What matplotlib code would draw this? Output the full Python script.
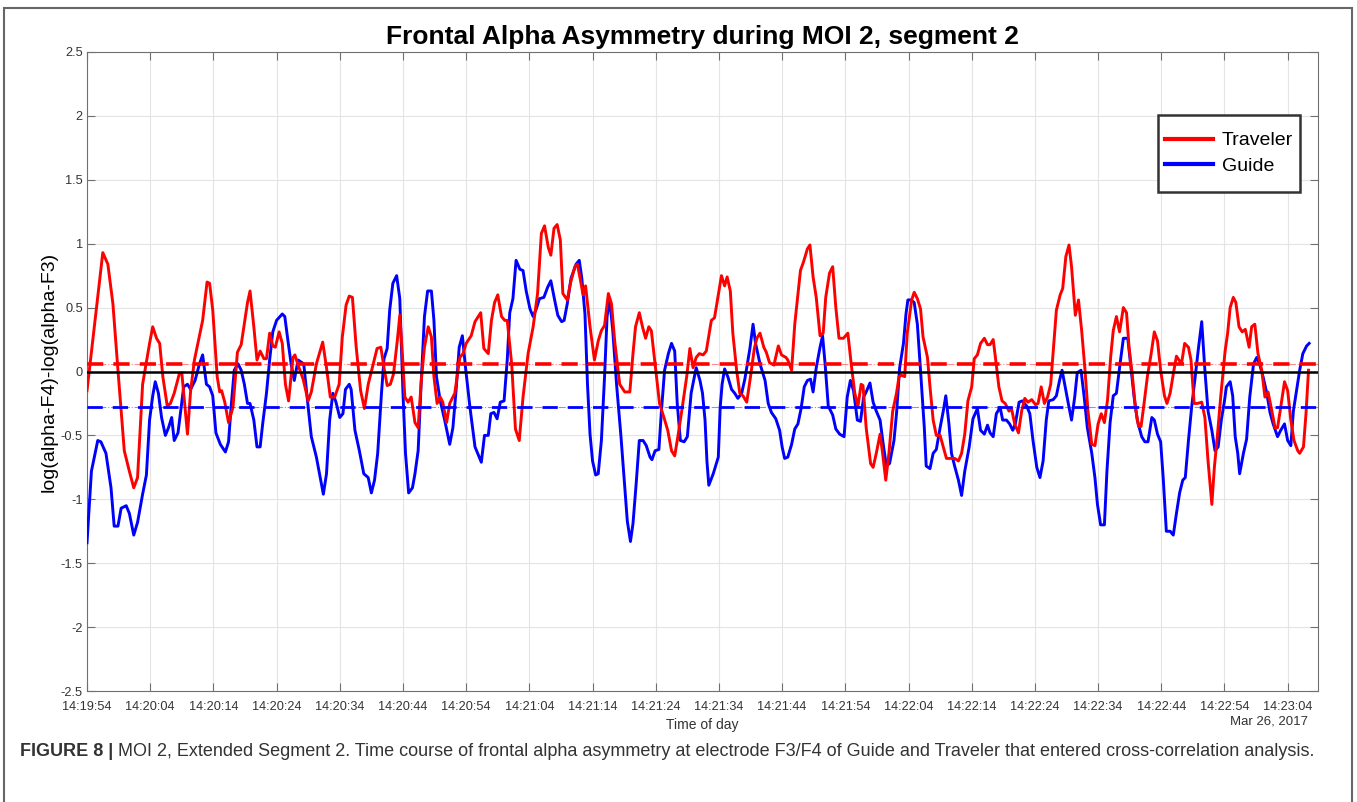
import datetime as dt
import matplotlib
matplotlib.use('Agg')
import matplotlib.pyplot as plt
from matplotlib.patches import Rectangle
from matplotlib.ticker import FixedLocator, FuncFormatter

plt.rcParams['font.family'] = ['Liberation Sans', 'DejaVu Sans']

# seconds after 14:19:54
start_time = dt.datetime(2017, 3, 26, 14, 19, 54)

traveler_t = [
    0.0, 2.5, 3.3, 4.1, 4.9, 5.9, 6.7, 7.4, 8.0, 8.8, 9.9, 10.4, 11.0, 11.5, 12.0, 12.7, 13.2, 13.8,
    14.6, 15.0, 15.3, 15.9, 16.4, 17.0, 18.3, 19.0, 19.4, 19.9, 20.6, 21.0, 21.3, 21.8, 22.4, 23.1,
    23.8, 24.4, 25.4, 25.8, 26.4, 26.9, 27.4, 28.0, 28.4, 28.9, 29.4, 29.8, 30.4, 30.9, 31.4, 31.9,
    32.6, 32.9, 33.4, 34.2, 35.0, 35.5, 36.3, 37.3, 37.9, 38.5, 39.2, 39.9, 40.4, 41.0, 41.5, 42.0,
    42.6, 43.3, 43.9, 44.5, 45.3, 45.9, 46.5, 47.0, 47.5, 48.0, 48.5, 49.1, 49.5, 49.9, 50.3, 50.8,
    51.3, 51.9, 52.4, 52.9, 53.4, 54.0, 54.5, 54.9, 55.4, 55.9, 56.3, 56.9, 57.4, 58.2, 59.0, 59.5,
    60.0, 60.8, 61.4, 62.3, 62.8, 63.5, 64.0, 64.5, 65.0, 65.6, 66.1, 66.5, 67.2, 67.8, 68.4, 69.0,
    69.8, 70.6, 71.3, 71.9, 72.4, 73.0, 73.4, 73.9, 74.4, 74.9, 75.3, 76.0, 76.5, 77.2, 77.6, 78.1,
    78.5, 78.9, 79.6, 80.3, 80.9, 81.4, 81.9, 82.5, 83.0, 83.5, 84.3, 85.1, 85.9, 86.4, 86.8, 87.4,
    87.9, 88.4, 88.9, 89.3, 89.9, 90.6, 91.3, 91.9, 92.5, 93.0, 93.5, 94.2, 94.9, 95.4, 95.9, 96.4,
    96.9, 97.5, 98.0, 98.8, 99.3, 99.9, 100.4, 100.9, 101.3, 101.8, 102.2, 102.8, 103.3, 103.8,
    104.4, 105.0, 105.6, 106.0, 106.5, 107.1, 107.5, 108.0, 108.7, 109.4, 109.9, 110.6, 110.9,
    111.5, 112.0, 112.9, 113.4, 114.0, 114.4, 114.9, 115.4, 116.0, 116.5, 116.9, 117.5, 118.0,
    118.5, 119.0, 119.7, 120.4, 121.0, 121.5, 122.0, 122.5, 122.8, 123.3, 124.0, 124.4, 124.9,
    125.5, 125.9, 126.4, 126.9, 127.5, 128.1, 128.5, 128.9, 129.4, 129.8, 130.2, 130.5, 130.9,
    131.4, 131.9, 132.3, 133.0, 133.4, 133.9, 134.4, 135.0, 135.5, 136.0, 136.8, 137.3, 137.9,
    138.4, 138.9, 139.4, 140.0, 140.4, 140.9, 141.4, 142.0, 142.5, 142.9, 143.4, 143.8, 144.3,
    144.8, 145.3, 145.9, 146.3, 146.8, 147.4, 147.9, 148.4, 148.9, 149.5, 150.1, 150.5, 151.0,
    151.5, 152.0, 152.5, 152.9, 153.4, 154.0, 154.4, 154.9, 155.4, 155.8, 156.4, 156.9, 157.4,
    157.9, 158.4, 159.0, 159.5, 160.0, 160.5, 161.0, 161.5, 162.0, 162.4, 162.9, 163.4, 164.0,
    164.5, 164.9, 165.4, 165.9, 166.4, 166.8, 167.3, 167.8, 168.4, 168.9, 169.4, 169.9, 170.5,
    170.9, 171.4, 171.9, 172.4, 172.8, 173.2, 173.7, 174.3, 174.7, 175.2, 175.7, 176.4, 176.9,
    177.4, 178.0, 178.4, 178.9, 179.4, 180.1, 180.5, 180.9, 181.4, 181.8, 182.3, 182.8, 183.3,
    183.9, 184.3, 184.8, 185.3, 185.9, 186.4, 186.9, 187.5, 188.0, 188.4, 188.9, 189.5, 190.0,
    190.5, 191.0, 191.6, 191.9, 192.5, 192.9, 193.3,
]
traveler_v = [
    -0.15, 0.93, 0.84, 0.53, 0.01, -0.62, -0.78, -0.91, -0.83, -0.10, 0.22, 0.35, 0.26, 0.22, -0.04,
    -0.27, -0.25, -0.17, -0.02, -0.01, -0.17, -0.49, -0.15, 0.09, 0.40, 0.70, 0.69, 0.48, -0.04,
    -0.16, -0.15, -0.24, -0.40, -0.28, 0.15, 0.21, 0.54, 0.63, 0.35, 0.09, 0.16, 0.10, 0.10, 0.30,
    0.20, 0.19, 0.31, 0.22, -0.10, -0.23, 0.11, 0.13, 0.05, -0.06, -0.23, -0.16, 0.06, 0.23, 0.03,
    -0.20, -0.20, -0.10, 0.27, 0.52, 0.59, 0.58, 0.19, -0.15, -0.29, -0.10, 0.06, 0.18, 0.19, 0.03,
    -0.11, -0.10, -0.02, 0.24, 0.44, 0.14, -0.20, -0.24, -0.20, -0.40, -0.44, -0.07, 0.19, 0.35,
    0.27, -0.04, -0.25, -0.20, -0.24, -0.40, -0.25, -0.17, 0.11, 0.14, 0.22, 0.28, 0.39, 0.46, 0.18,
    0.14, 0.40, 0.54, 0.60, 0.43, 0.40, 0.40, 0.06, -0.45, -0.54, -0.20, 0.14, 0.35, 0.61, 1.08,
    1.14, 0.97, 0.91, 1.12, 1.15, 1.03, 0.61, 0.56, 0.69, 0.82, 0.84, 0.71, 0.60, 0.67, 0.35, 0.09,
    0.24, 0.32, 0.36, 0.61, 0.53, 0.24, -0.10, -0.16, -0.16, 0.14, 0.35, 0.46, 0.35, 0.26, 0.35,
    0.32, 0.06, -0.25, -0.36, -0.46, -0.62, -0.66, -0.51, -0.28, -0.04, 0.18, 0.03, 0.11, 0.14,
    0.13, 0.16, 0.40, 0.42, 0.60, 0.75, 0.67, 0.74, 0.63, 0.30, 0.01, -0.17, -0.19, -0.24, -0.04,
    0.18, 0.26, 0.30, 0.19, 0.15, 0.07, 0.05, 0.20, 0.13, 0.11, 0.09, 0.01, 0.37, 0.79, 0.86, 0.96,
    0.99, 0.74, 0.58, 0.28, 0.30, 0.58, 0.77, 0.82, 0.50, 0.26, 0.26, 0.30, 0.03, -0.17, -0.27,
    -0.10, -0.11, -0.44, -0.72, -0.75, -0.64, -0.49, -0.64, -0.85, -0.64, -0.31, -0.17, -0.04,
    -0.03, -0.04, 0.30, 0.45, 0.56, 0.62, 0.57, 0.49, 0.27, 0.11, -0.12, -0.38, -0.50, -0.50,
    -0.59, -0.68, -0.68, -0.68, -0.70, -0.64, -0.49, -0.23, -0.12, 0.10, 0.13, 0.22, 0.26, 0.21,
    0.21, 0.25, 0.09, -0.12, -0.23, -0.25, -0.31, -0.29, -0.41, -0.48, -0.31, -0.21, -0.24, -0.22,
    -0.26, -0.25, -0.12, -0.25, -0.20, -0.10, 0.16, 0.48, 0.60, 0.65, 0.90, 0.99, 0.82, 0.44, 0.56,
    0.32, 0.03, -0.31, -0.57, -0.58, -0.41, -0.33, -0.40, -0.22, 0.12, 0.32, 0.43, 0.31, 0.50,
    0.46, 0.19, -0.02, -0.28, -0.43, -0.43, -0.24, -0.04, 0.14, 0.31, 0.24, 0.01, -0.19, -0.25,
    -0.17, -0.02, 0.12, 0.09, 0.06, 0.22, 0.19, 0.09, -0.25, -0.25, -0.24, -0.36, -0.70, -1.04,
    -0.75, -0.49, -0.20, 0.16, 0.30, 0.50, 0.58, 0.54, 0.35, 0.31, 0.33, 0.19, 0.35, 0.37, 0.14,
    0.01, -0.20, -0.16, -0.31, -0.44, -0.44, -0.28, -0.08, -0.15, -0.38, -0.54, -0.62, -0.64,
    -0.59, -0.33, 0.01,
]

guide_t = [
    0.0, 0.7, 1.7, 2.2, 3.0, 3.8, 4.3, 4.9, 5.4, 6.2, 6.7, 7.4, 8.0, 8.8, 9.4, 9.9, 10.4, 10.8,
    11.3, 11.8, 12.4, 12.9, 13.4, 13.8, 14.4, 14.9, 15.3, 15.9, 16.4, 17.1, 17.8, 18.3, 18.9, 19.4,
    19.9, 20.4, 21.1, 21.9, 22.4, 22.8, 23.3, 23.9, 24.4, 24.9, 25.4, 25.8, 26.4, 26.9, 27.4, 27.8,
    28.4, 28.9, 29.4, 30.0, 30.9, 31.3, 31.8, 32.3, 32.8, 33.4, 34.3, 35.0, 35.5, 36.3, 36.8, 37.4,
    37.9, 38.4, 38.9, 39.4, 40.0, 40.5, 40.9, 41.5, 41.8, 42.4, 43.1, 43.8, 44.5, 45.0, 45.5, 46.0,
    46.6, 47.0, 47.5, 47.9, 48.4, 49.0, 49.5, 50.0, 50.4, 50.9, 51.5, 51.9, 52.4, 52.9, 53.4, 53.9,
    54.5, 54.9, 55.3, 55.9, 56.6, 57.4, 57.9, 58.4, 58.9, 59.4, 59.9, 60.6, 61.4, 62.4, 62.9, 63.5,
    63.9, 64.4, 64.9, 65.4, 66.0, 66.5, 66.9, 67.4, 67.9, 68.5, 69.0, 69.5, 70.1, 70.6, 71.1, 71.6,
    72.3, 72.9, 73.4, 74.0, 74.5, 75.1, 75.5, 76.0, 76.6, 77.4, 77.9, 78.3, 78.8, 79.2, 79.6, 80.0,
    80.5, 80.9, 81.4, 81.9, 82.3, 82.7, 83.2, 83.8, 84.5, 85.1, 85.5, 86.0, 86.4, 86.9, 87.4, 88.0,
    88.5, 89.1, 89.4, 89.9, 90.5, 90.9, 91.4, 92.0, 92.5, 93.0, 93.4, 93.9, 94.5, 95.0, 95.6, 96.4,
    97.0, 97.4, 97.8, 98.1, 98.4, 99.1, 99.9, 100.2, 100.5, 100.9, 101.4, 102.0, 102.5, 103.0,
    103.6, 104.1, 104.6, 104.9, 105.4, 105.8, 106.5, 107.3, 107.8, 108.3, 109.0, 109.6, 110.0,
    110.4, 110.9, 111.5, 112.0, 112.5, 113.0, 113.5, 114.0, 114.5, 114.9, 115.4, 116.0, 116.4,
    116.8, 117.3, 118.0, 118.5, 119.1, 119.8, 120.3, 120.8, 121.3, 121.9, 122.4, 122.9, 123.3,
    123.9, 124.4, 124.9, 125.5, 126.0, 126.5, 127.0, 127.7, 128.1, 128.6, 129.2, 129.6, 129.9,
    130.4, 130.9, 131.4, 131.9, 132.5, 132.8, 133.4, 133.9, 134.4, 135.0, 135.5, 135.9, 136.4,
    136.8, 137.3, 137.9, 138.4, 138.9, 139.6, 140.2, 140.9, 141.4, 142.0, 142.5, 142.9, 143.4,
    143.9, 144.5, 144.9, 145.5, 146.0, 146.5, 146.9, 147.5, 148.0, 148.7, 149.2, 149.7, 150.3,
    150.8, 151.3, 151.8, 152.2, 152.9, 153.4, 153.9, 154.3, 154.9, 155.4, 155.8, 156.3, 156.7,
    157.3, 157.8, 158.3, 159.0, 159.5, 159.9, 160.4, 161.0, 161.4, 161.9, 162.4, 162.9, 163.4,
    164.0, 164.7, 165.2, 165.7, 166.2, 166.9, 167.4, 167.9, 168.5, 168.9, 169.4, 169.9, 170.3,
    170.8, 171.4, 171.9, 172.4, 172.9, 173.4, 173.8, 174.3, 174.8, 175.3, 175.9, 176.4, 176.9,
    177.4, 178.0, 178.5, 179.0, 179.5, 180.0, 180.3, 180.9, 181.3, 181.7, 182.1, 182.4, 183.0,
    183.5, 184.0, 184.6, 185.1, 185.6, 186.1, 186.7, 187.2, 187.7, 188.4, 188.9, 189.5, 190.0,
    190.5, 190.9, 191.4, 191.9, 192.4, 193.0, 193.4,
]
guide_v = [
    -1.34, -0.78, -0.54, -0.55, -0.64, -0.91, -1.21, -1.21, -1.07, -1.05, -1.11, -1.28, -1.18,
    -0.96, -0.81, -0.38, -0.19, -0.08, -0.17, -0.36, -0.50, -0.44, -0.36, -0.54, -0.48, -0.28,
    -0.12, -0.10, -0.14, -0.07, 0.06, 0.13, -0.10, -0.12, -0.19, -0.48, -0.57, -0.63, -0.55, -0.28,
    0.01, 0.06, 0.01, -0.10, -0.25, -0.25, -0.38, -0.59, -0.59, -0.41, -0.17, 0.09, 0.31, 0.40,
    0.45, 0.43, 0.24, 0.06, -0.07, 0.09, 0.06, -0.28, -0.51, -0.67, -0.80, -0.96, -0.80, -0.38,
    -0.17, -0.24, -0.36, -0.33, -0.14, -0.10, -0.14, -0.46, -0.62, -0.80, -0.83, -0.95, -0.85,
    -0.64, -0.17, 0.10, 0.18, 0.48, 0.69, 0.75, 0.57, -0.17, -0.64, -0.95, -0.91, -0.80, -0.62,
    -0.07, 0.43, 0.63, 0.63, 0.40, -0.04, -0.23, -0.38, -0.57, -0.44, -0.15, 0.19, 0.28, 0.03,
    -0.28, -0.59, -0.71, -0.50, -0.50, -0.33, -0.32, -0.37, -0.24, -0.23, 0.09, 0.46, 0.57, 0.87,
    0.80, 0.79, 0.63, 0.49, 0.43, 0.49, 0.57, 0.58, 0.66, 0.71, 0.56, 0.44, 0.39, 0.40, 0.53, 0.73,
    0.84, 0.87, 0.73, 0.45, -0.10, -0.49, -0.70, -0.81, -0.80, -0.54, -0.04, 0.43, 0.57, 0.32,
    -0.10, -0.51, -0.91, -1.17, -1.33, -1.19, -0.88, -0.54, -0.54, -0.58, -0.67, -0.69, -0.62,
    -0.61, -0.31, 0.01, 0.14, 0.22, 0.16, -0.25, -0.54, -0.55, -0.51, -0.17, 0.03, -0.07, -0.17,
    -0.38, -0.70, -0.89, -0.80, -0.67, -0.28, -0.10, 0.02, -0.04, -0.14, -0.17, -0.21, -0.17,
    -0.06, 0.09, 0.18, 0.37, 0.22, 0.06, -0.07, -0.25, -0.32, -0.37, -0.46, -0.59, -0.68, -0.67,
    -0.57, -0.45, -0.41, -0.29, -0.12, -0.07, -0.06, -0.16, 0.03, 0.19, 0.28, 0.06, -0.27, -0.34,
    -0.45, -0.49, -0.51, -0.20, -0.07, -0.15, -0.38, -0.39, -0.20, -0.16, -0.09, -0.24, -0.31,
    -0.38, -0.57, -0.74, -0.72, -0.54, -0.33, 0.03, 0.22, 0.45, 0.56, 0.56, 0.54, 0.37, 0.01,
    -0.44, -0.74, -0.76, -0.64, -0.61, -0.44, -0.31, -0.19, -0.41, -0.64, -0.74, -0.85, -0.97,
    -0.78, -0.59, -0.37, -0.29, -0.46, -0.49, -0.42, -0.48, -0.51, -0.33, -0.28, -0.38, -0.38,
    -0.41, -0.46, -0.41, -0.24, -0.23, -0.27, -0.33, -0.54, -0.75, -0.83, -0.70, -0.38, -0.23,
    -0.22, -0.19, -0.07, 0.01, -0.15, -0.28, -0.38, -0.20, -0.01, 0.01, -0.20, -0.44, -0.64,
    -0.83, -1.04, -1.20, -1.20, -0.78, -0.40, -0.19, -0.17, 0.03, 0.26, 0.26, 0.03, -0.20, -0.38,
    -0.51, -0.55, -0.55, -0.36, -0.38, -0.49, -0.55, -0.83, -1.25, -1.25, -1.28, -1.11, -0.95,
    -0.85, -0.83, -0.54, -0.28, -0.07, 0.19, 0.39, 0.01, -0.31, -0.46, -0.62, -0.59, -0.38, -0.23,
    -0.12, -0.08, -0.19, -0.51, -0.64, -0.80, -0.64, -0.53, -0.20, 0.06, 0.11, 0.05, -0.04, -0.17,
    -0.32, -0.41, -0.51, -0.46, -0.41, -0.54, -0.58, -0.31, -0.15, 0.01, 0.14, 0.20, 0.22,
]

traveler_mean = 0.055
guide_mean = -0.28

x_ticks = list(range(0, 191, 10))
y_ticks = [-2.5, -2, -1.5, -1, -0.5, 0, 0.5, 1, 1.5, 2, 2.5]
y_ticklabels = ['-2.5', '-2', '-1.5', '-1', '-0.5', '0', '0.5', '1', '1.5', '2', '2.5']

W, H = 1357, 802
fig = plt.figure(figsize=(W / 100, H / 100), dpi=100)
ax = fig.add_axes([87 / W, 1 - 691 / H, 1231 / W, 639 / H])

ax.plot(traveler_t, traveler_v, color='#ff0000', lw=2.1, label='Traveler', zorder=4)
ax.plot(guide_t, guide_v, color='#0000ff', lw=2.1, label='Guide', zorder=3)

ax.axhline(0, color='black', lw=1.8, zorder=5)
# mean lines: thick dashes over a thin dash-dot
ax.axhline(traveler_mean, color='#ff0000', lw=0.8, ls='-.', alpha=0.45, zorder=5)
ax.axhline(traveler_mean, color='#ff0000', lw=2.6, ls=(0, (4.5, 2.8)), zorder=5)
ax.axhline(guide_mean, color='#0000ff', lw=0.8, ls='-.', alpha=0.45, zorder=5)
ax.axhline(guide_mean, color='#0000ff', lw=2.0, ls=(0, (5.5, 3.6)), zorder=5)

ax.set_xlim(0, 194.8)
ax.set_ylim(-2.5, 2.5)
ax.xaxis.set_major_locator(FixedLocator(x_ticks))
ax.xaxis.set_major_formatter(FuncFormatter(
    lambda s, pos: (start_time + dt.timedelta(seconds=float(s))).strftime('%H:%M:%S')))
ax.set_yticks(y_ticks)
ax.set_yticklabels(y_ticklabels)

ax.grid(True, color='#e4e4e4', lw=0.8)
ax.set_axisbelow(True)
ax.tick_params(direction='in', length=6, width=0.8, color='#707070',
               labelsize=9.2, labelcolor='#333333', top=True, right=True, pad=3)
ax.tick_params(axis='x', pad=7)
for sp in ax.spines.values():
    sp.set_color('#707070')
    sp.set_linewidth(0.8)

ax.set_title('Frontal Alpha Asymmetry during MOI 2, segment 2',
             fontsize=19, fontweight='bold', pad=6)
ax.set_ylabel('log(alpha-F4)-log(alpha-F3)', fontsize=14, labelpad=2)
ax.set_xlabel('Time of day', fontsize=10, color='#333333', labelpad=4)
fig.text(1308 / W, 1 - 722 / H, start_time.strftime('%b %d, %Y').replace(' 0', ' '),
         ha='right', va='center', fontsize=9.5, color='#333333')

# legend: frameless legend inside a hand-placed box
leg_box = (1158, 115, 1300, 192)
leg = ax.legend(loc='center', fontsize=14, frameon=False,
                bbox_to_anchor=((leg_box[0] + leg_box[2]) / 2 / W, 1 - (leg_box[1] + leg_box[3]) / 2 / H),
                bbox_transform=fig.transFigure,
                handlelength=2.45, handletextpad=0.45, labelspacing=0.42,
                borderpad=0, borderaxespad=0)
for line in leg.get_lines():
    line.set_linewidth(3)
leg.set_zorder(20)
box = Rectangle((leg_box[0] / W, 1 - leg_box[3] / H),
                (leg_box[2] - leg_box[0]) / W, (leg_box[3] - leg_box[1]) / H,
                transform=fig.transFigure, facecolor='white',
                edgecolor='#333333', lw=1.8, zorder=15, clip_on=False)
ax.add_artist(box)

# caption below the plot, inside an outer frame
cap_y = 1 - 751 / H
fig.canvas.draw()
r = fig.canvas.get_renderer()
t1 = fig.text(20 / W, cap_y, 'FIGURE 8 | ', fontsize=13, fontweight='bold',
              color='#333333', va='center')
bb = t1.get_window_extent(renderer=r)
fig.text(bb.x1 / W, cap_y,
         'MOI 2, Extended Segment 2. Time course of frontal alpha asymmetry at electrode '
         'F3/F4 of Guide and Traveler that entered cross-correlation analysis.',
         fontsize=13, color='#333333', va='center')

fig.patches.append(Rectangle((4 / W, -0.02), 1348 / W, 1.02 - 8 / H,
                             transform=fig.transFigure, fill=False,
                             edgecolor='#666666', lw=1.5))

fig.savefig('out.png', dpi=100)
plt.close(fig)
